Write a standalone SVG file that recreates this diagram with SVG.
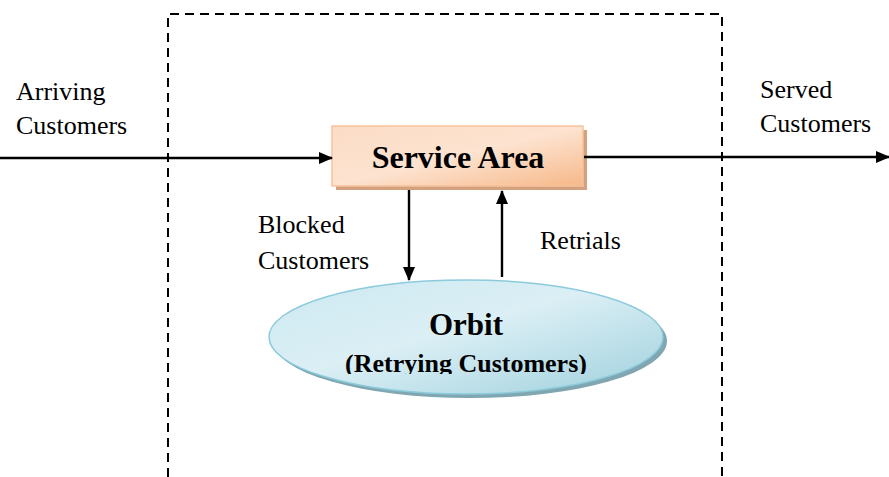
<svg xmlns="http://www.w3.org/2000/svg" width="889" height="477" viewBox="0 0 889 477">
  <defs>
    <linearGradient id="boxFill" x1="0" y1="0" x2="1" y2="1">
      <stop offset="0" stop-color="#fbdcc6"/>
      <stop offset="0.5" stop-color="#fde3d0"/>
      <stop offset="1" stop-color="#f6b889"/>
    </linearGradient>
    <linearGradient id="orbitFill" x1="0" y1="0" x2="1" y2="1">
      <stop offset="0" stop-color="#cde9f1"/>
      <stop offset="0.45" stop-color="#dbeff5"/>
      <stop offset="1" stop-color="#9fd0dd"/>
    </linearGradient>
    <marker id="arrow" viewBox="0 0 14 14" refX="13" refY="7" markerWidth="14" markerHeight="14" markerUnits="userSpaceOnUse" orient="auto">
      <path d="M0,1 L14,7 L0,13 z" fill="#000"/>
    </marker>
    <clipPath id="orbitClip">
      <rect x="0" y="0" width="889" height="374"/>
    </clipPath>
  </defs>
  <style>
    .label { font-family: "Liberation Serif", "Times New Roman", serif; font-size: 26px; fill: #000; }
    .title { font-family: "Liberation Serif", "Times New Roman", serif; font-weight: bold; fill: #000; text-anchor: middle; }
    .flow { stroke: #000; stroke-width: 2.4; fill: none; marker-end: url(#arrow); }
    .boundary { stroke: #000; stroke-width: 2; fill: none; stroke-dasharray: 9 6; }
  </style>

  <rect width="889" height="477" fill="#fff"/>

  <!-- system boundary -->
  <path class="boundary" d="M168,477 L168,14 L722,14 L722,477"/>

  <!-- service area -->
  <g id="service-area">
    <rect x="336" y="130" width="251" height="60" fill="#d3a17e"/>
    <rect x="332" y="126" width="251" height="60" fill="url(#boxFill)" stroke="#f7c29d" stroke-width="1.5"/>
    <text class="title" x="458" y="168" font-size="32">Service Area</text>
  </g>

  <!-- orbit -->
  <g id="orbit">
    <ellipse cx="470" cy="341" rx="197" ry="57" fill="#7fa6b1"/>
    <ellipse cx="466" cy="337" rx="197" ry="57" fill="url(#orbitFill)" stroke="#8ccbdc" stroke-width="1.5"/>
    <text class="title" x="466" y="335" font-size="31">Orbit</text>
    <text class="title" x="466" y="372" font-size="26" clip-path="url(#orbitClip)">(Retrying Customers)</text>
  </g>

  <!-- connectors -->
  <g id="connectors">
    <line class="flow" x1="0" y1="158" x2="332" y2="158"/>
    <line class="flow" x1="584" y1="157" x2="889" y2="157"/>
    <line class="flow" x1="409" y1="190" x2="409" y2="280"/>
    <line class="flow" x1="502" y1="277" x2="502" y2="191"/>
  </g>

  <!-- flow labels -->
  <g id="labels">
    <text class="label" x="16" y="100">Arriving</text>
    <text class="label" x="16" y="134">Customers</text>
    <text class="label" x="760" y="98">Served</text>
    <text class="label" x="760" y="132">Customers</text>
    <text class="label" x="258" y="233">Blocked</text>
    <text class="label" x="258" y="269">Customers</text>
    <text class="label" x="540" y="249">Retrials</text>
  </g>
</svg>
